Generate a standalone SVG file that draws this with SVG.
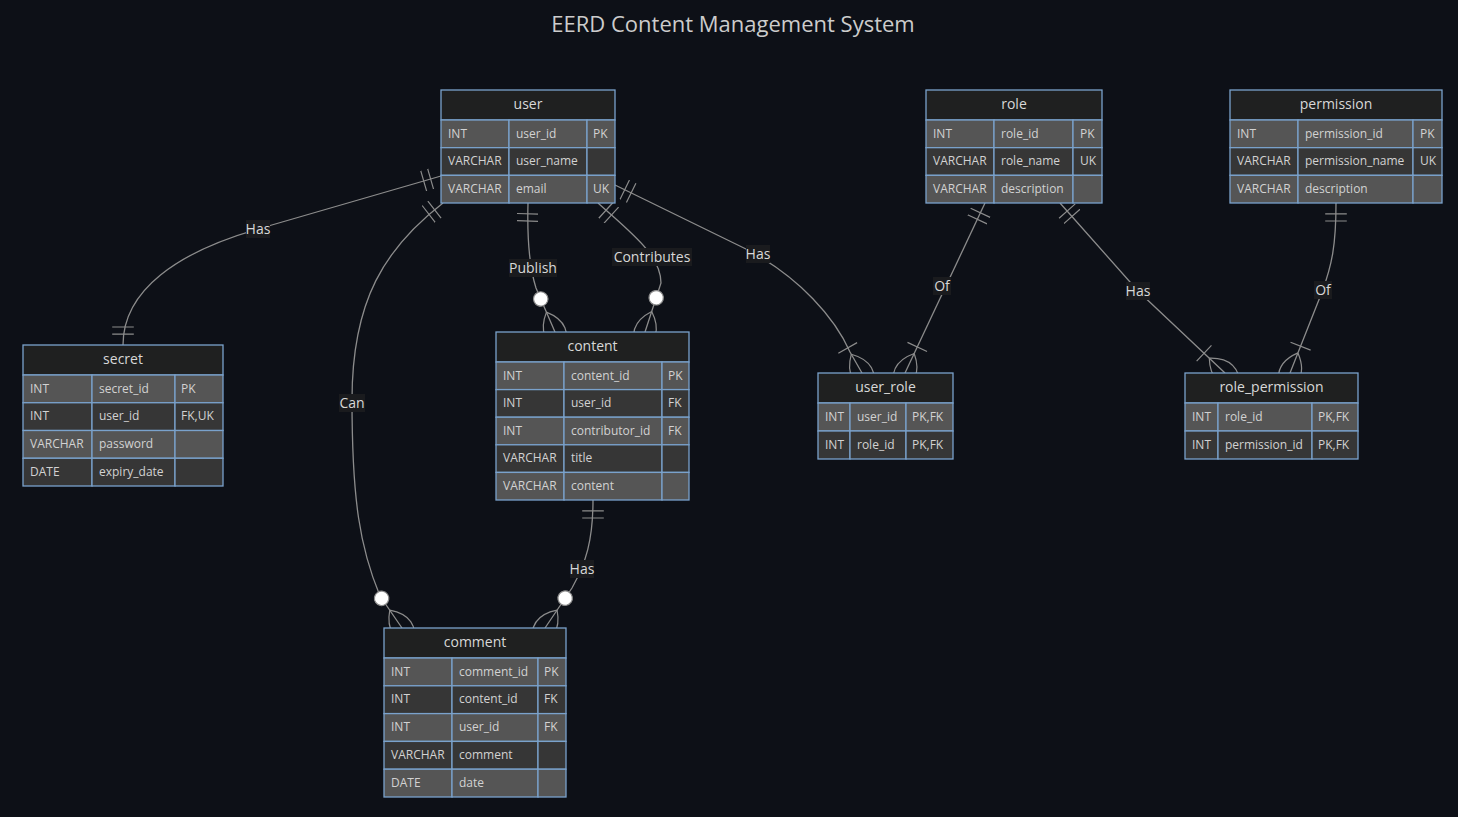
<svg xmlns="http://www.w3.org/2000/svg" width="1458" height="817" viewBox="0 0 1458 817">
<style>
.bg{fill:#0d1017}
.hdr{fill:#1f2020;stroke:#7aa2cc;stroke-width:1.3}
.odd{fill:#555555;stroke:#7aa2cc;stroke-width:1.3}
.even{fill:#363636;stroke:#7aa2cc;stroke-width:1.3}
.t{font-family:"Open Sans","Liberation Sans",sans-serif;font-size:12px;fill:#d2d2d2}
.tn{font-family:"Open Sans","Liberation Sans",sans-serif;font-size:14px;fill:#d8d8d8;text-anchor:middle}
.edge{fill:none;stroke:#8c8c8c;stroke-width:1.3}
.lblbg{fill:#1a1b1e}
.lbl{font-family:"Open Sans","Liberation Sans",sans-serif;font-size:14px;fill:#d8d8d8;text-anchor:middle}
.mk{fill:none;stroke:#8c8c8c;stroke-width:1}
.diagtitle{font-family:"Open Sans","Liberation Sans",sans-serif;font-size:22px;fill:#cccccc;text-anchor:middle}
</style>
<defs>
<marker id="onlyOneStart" markerUnits="userSpaceOnUse" viewBox="0 0 18 18" markerWidth="21.6" markerHeight="21.6" refX="0" refY="9" orient="auto">
<path class="mk" d="M9,0 L9,18 M15,0 L15,18"/>
</marker>
<marker id="onlyOneEnd" markerUnits="userSpaceOnUse" viewBox="0 0 18 18" markerWidth="21.6" markerHeight="21.6" refX="18" refY="9" orient="auto">
<path class="mk" d="M3,0 L3,18 M9,0 L9,18"/>
</marker>
<marker id="zeroOrMoreEnd" markerUnits="userSpaceOnUse" viewBox="0 0 57 36" markerWidth="68.4" markerHeight="43.2" refX="39" refY="18" orient="auto">
<circle cx="9" cy="18" r="6" fill="#ffffff" stroke="#8c8c8c" stroke-width="1"/>
<path class="mk" d="M21,18 Q39,0 57,18 Q39,36 21,18"/>
</marker>
<marker id="oneOrMoreEnd" markerUnits="userSpaceOnUse" viewBox="0 0 45 36" markerWidth="54" markerHeight="43.2" refX="27" refY="18" orient="auto">
<path class="mk" d="M3,9 L3,27 M9,18 Q27,0 45,18 Q27,36 9,18"/>
</marker>
</defs>
<rect class="bg" x="0" y="0" width="1458" height="817"/>
<text class="diagtitle" x="733" y="32">EERD Content Management System</text>

<g id="connectors">
<path class="edge" d="M441,176 L258,229 C178,252 123,290 123,345" marker-start="url(#onlyOneStart)" marker-end="url(#onlyOneEnd)"/>
<path class="edge" d="M528,203 C527,240 529,266 536,288 L555,332" marker-start="url(#onlyOneStart)" marker-end="url(#zeroOrMoreEnd)"/>
<path class="edge" d="M598,203 C630,232 661,255 661,283 L645,332" marker-start="url(#onlyOneStart)" marker-end="url(#zeroOrMoreEnd)"/>
<path class="edge" d="M615,185 L748,250 C800,278 835,318 850,352 L862,373" marker-start="url(#onlyOneStart)" marker-end="url(#oneOrMoreEnd)"/>
<path class="edge" d="M443,203 C385,248 352,300 352,400 C352,500 360,548 380,596 L402,628" marker-start="url(#onlyOneStart)" marker-end="url(#zeroOrMoreEnd)"/>
<path class="edge" d="M593,500 C593,540 586,563 572,588 L545,628" marker-start="url(#onlyOneStart)" marker-end="url(#zeroOrMoreEnd)"/>
<path class="edge" d="M985,203 L905,373" marker-start="url(#onlyOneStart)" marker-end="url(#oneOrMoreEnd)"/>
<path class="edge" d="M1060,203 L1138,291 L1225,373" marker-start="url(#onlyOneStart)" marker-end="url(#oneOrMoreEnd)"/>
<path class="edge" d="M1336,203 C1336,245 1332,265 1322,292 L1290,373" marker-start="url(#onlyOneStart)" marker-end="url(#oneOrMoreEnd)"/>
</g>

<g id="edge-labels">
<rect class="lblbg" x="246" y="220" width="24" height="18"/><text class="lbl" x="258" y="234">Has</text>
<rect class="lblbg" x="509" y="259" width="48" height="18"/><text class="lbl" x="533" y="273">Publish</text>
<rect class="lblbg" x="612" y="248" width="80" height="18"/><text class="lbl" x="652" y="262">Contributes</text>
<rect class="lblbg" x="746" y="245" width="24" height="18"/><text class="lbl" x="758" y="259">Has</text>
<rect class="lblbg" x="339" y="394" width="26" height="18"/><text class="lbl" x="352" y="408">Can</text>
<rect class="lblbg" x="570" y="560" width="24" height="18"/><text class="lbl" x="582" y="574">Has</text>
<rect class="lblbg" x="933" y="277" width="18" height="18"/><text class="lbl" x="942" y="291">Of</text>
<rect class="lblbg" x="1126" y="282" width="24" height="18"/><text class="lbl" x="1138" y="296">Has</text>
<rect class="lblbg" x="1314" y="281" width="18" height="18"/><text class="lbl" x="1323" y="295">Of</text>
</g>

<g id="user">
<rect class="hdr" x="441" y="90" width="174" height="30"/>
<text class="tn" x="528" y="109">user</text>
<rect class="odd" x="441" y="120" width="68" height="27.67"/><rect class="odd" x="509" y="120" width="78" height="27.67"/><rect class="odd" x="587" y="120" width="28" height="27.67"/>
<text class="t" x="448" y="137.5">INT</text><text class="t" x="516" y="137.5">user_id</text><text class="t" x="593" y="137.5">PK</text>
<rect class="even" x="441" y="147.67" width="68" height="27.67"/><rect class="even" x="509" y="147.67" width="78" height="27.67"/><rect class="even" x="587" y="147.67" width="28" height="27.67"/>
<text class="t" x="448" y="165.2">VARCHAR</text><text class="t" x="516" y="165.2">user_name</text>
<rect class="odd" x="441" y="175.33" width="68" height="27.67"/><rect class="odd" x="509" y="175.33" width="78" height="27.67"/><rect class="odd" x="587" y="175.33" width="28" height="27.67"/>
<text class="t" x="448" y="192.8">VARCHAR</text><text class="t" x="516" y="192.8">email</text><text class="t" x="593" y="192.8">UK</text>
</g>

<g id="secret">
<rect class="hdr" x="23" y="345" width="200" height="30"/>
<text class="tn" x="123" y="364">secret</text>
<rect class="odd" x="23" y="375" width="69" height="27.75"/><rect class="odd" x="92" y="375" width="83" height="27.75"/><rect class="odd" x="175" y="375" width="48" height="27.75"/>
<text class="t" x="30" y="392.5">INT</text><text class="t" x="99" y="392.5">secret_id</text><text class="t" x="181" y="392.5">PK</text>
<rect class="even" x="23" y="402.75" width="69" height="27.75"/><rect class="even" x="92" y="402.75" width="83" height="27.75"/><rect class="even" x="175" y="402.75" width="48" height="27.75"/>
<text class="t" x="30" y="420.25">INT</text><text class="t" x="99" y="420.25">user_id</text><text class="t" x="181" y="420.25">FK,UK</text>
<rect class="odd" x="23" y="430.5" width="69" height="27.75"/><rect class="odd" x="92" y="430.5" width="83" height="27.75"/><rect class="odd" x="175" y="430.5" width="48" height="27.75"/>
<text class="t" x="30" y="448">VARCHAR</text><text class="t" x="99" y="448">password</text>
<rect class="even" x="23" y="458.25" width="69" height="27.75"/><rect class="even" x="92" y="458.25" width="83" height="27.75"/><rect class="even" x="175" y="458.25" width="48" height="27.75"/>
<text class="t" x="30" y="475.75">DATE</text><text class="t" x="99" y="475.75">expiry_date</text>
</g>

<g id="content">
<rect class="hdr" x="496" y="332" width="193" height="30"/>
<text class="tn" x="592.5" y="351">content</text>
<rect class="odd" x="496" y="362" width="68" height="27.6"/><rect class="odd" x="564" y="362" width="98" height="27.6"/><rect class="odd" x="662" y="362" width="27" height="27.6"/>
<text class="t" x="503" y="379.5">INT</text><text class="t" x="571" y="379.5">content_id</text><text class="t" x="668" y="379.5">PK</text>
<rect class="even" x="496" y="389.6" width="68" height="27.6"/><rect class="even" x="564" y="389.6" width="98" height="27.6"/><rect class="even" x="662" y="389.6" width="27" height="27.6"/>
<text class="t" x="503" y="407.1">INT</text><text class="t" x="571" y="407.1">user_id</text><text class="t" x="668" y="407.1">FK</text>
<rect class="odd" x="496" y="417.2" width="68" height="27.6"/><rect class="odd" x="564" y="417.2" width="98" height="27.6"/><rect class="odd" x="662" y="417.2" width="27" height="27.6"/>
<text class="t" x="503" y="434.7">INT</text><text class="t" x="571" y="434.7">contributor_id</text><text class="t" x="668" y="434.7">FK</text>
<rect class="even" x="496" y="444.8" width="68" height="27.6"/><rect class="even" x="564" y="444.8" width="98" height="27.6"/><rect class="even" x="662" y="444.8" width="27" height="27.6"/>
<text class="t" x="503" y="462.3">VARCHAR</text><text class="t" x="571" y="462.3">title</text>
<rect class="odd" x="496" y="472.4" width="68" height="27.6"/><rect class="odd" x="564" y="472.4" width="98" height="27.6"/><rect class="odd" x="662" y="472.4" width="27" height="27.6"/>
<text class="t" x="503" y="489.9">VARCHAR</text><text class="t" x="571" y="489.9">content</text>
</g>

<g id="comment">
<rect class="hdr" x="384" y="628" width="182" height="30"/>
<text class="tn" x="475" y="647">comment</text>
<rect class="odd" x="384" y="658" width="68" height="27.8"/><rect class="odd" x="452" y="658" width="86" height="27.8"/><rect class="odd" x="538" y="658" width="28" height="27.8"/>
<text class="t" x="391" y="675.5">INT</text><text class="t" x="459" y="675.5">comment_id</text><text class="t" x="544" y="675.5">PK</text>
<rect class="even" x="384" y="685.8" width="68" height="27.8"/><rect class="even" x="452" y="685.8" width="86" height="27.8"/><rect class="even" x="538" y="685.8" width="28" height="27.8"/>
<text class="t" x="391" y="703.3">INT</text><text class="t" x="459" y="703.3">content_id</text><text class="t" x="544" y="703.3">FK</text>
<rect class="odd" x="384" y="713.6" width="68" height="27.8"/><rect class="odd" x="452" y="713.6" width="86" height="27.8"/><rect class="odd" x="538" y="713.6" width="28" height="27.8"/>
<text class="t" x="391" y="731.1">INT</text><text class="t" x="459" y="731.1">user_id</text><text class="t" x="544" y="731.1">FK</text>
<rect class="even" x="384" y="741.4" width="68" height="27.8"/><rect class="even" x="452" y="741.4" width="86" height="27.8"/><rect class="even" x="538" y="741.4" width="28" height="27.8"/>
<text class="t" x="391" y="758.9">VARCHAR</text><text class="t" x="459" y="758.9">comment</text>
<rect class="odd" x="384" y="769.2" width="68" height="27.8"/><rect class="odd" x="452" y="769.2" width="86" height="27.8"/><rect class="odd" x="538" y="769.2" width="28" height="27.8"/>
<text class="t" x="391" y="786.7">DATE</text><text class="t" x="459" y="786.7">date</text>
</g>

<g id="role">
<rect class="hdr" x="926" y="90" width="176" height="30"/>
<text class="tn" x="1014" y="109">role</text>
<rect class="odd" x="926" y="120" width="68" height="27.67"/><rect class="odd" x="994" y="120" width="79" height="27.67"/><rect class="odd" x="1073" y="120" width="29" height="27.67"/>
<text class="t" x="933" y="137.5">INT</text><text class="t" x="1001" y="137.5">role_id</text><text class="t" x="1080" y="137.5">PK</text>
<rect class="even" x="926" y="147.67" width="68" height="27.67"/><rect class="even" x="994" y="147.67" width="79" height="27.67"/><rect class="even" x="1073" y="147.67" width="29" height="27.67"/>
<text class="t" x="933" y="165.2">VARCHAR</text><text class="t" x="1001" y="165.2">role_name</text><text class="t" x="1080" y="165.2">UK</text>
<rect class="odd" x="926" y="175.33" width="68" height="27.67"/><rect class="odd" x="994" y="175.33" width="79" height="27.67"/><rect class="odd" x="1073" y="175.33" width="29" height="27.67"/>
<text class="t" x="933" y="192.8">VARCHAR</text><text class="t" x="1001" y="192.8">description</text>
</g>

<g id="permission">
<rect class="hdr" x="1230" y="90" width="212" height="30"/>
<text class="tn" x="1336" y="109">permission</text>
<rect class="odd" x="1230" y="120" width="68" height="27.67"/><rect class="odd" x="1298" y="120" width="115" height="27.67"/><rect class="odd" x="1413" y="120" width="29" height="27.67"/>
<text class="t" x="1237" y="137.5">INT</text><text class="t" x="1305" y="137.5">permission_id</text><text class="t" x="1420" y="137.5">PK</text>
<rect class="even" x="1230" y="147.67" width="68" height="27.67"/><rect class="even" x="1298" y="147.67" width="115" height="27.67"/><rect class="even" x="1413" y="147.67" width="29" height="27.67"/>
<text class="t" x="1237" y="165.2">VARCHAR</text><text class="t" x="1305" y="165.2">permission_name</text><text class="t" x="1420" y="165.2">UK</text>
<rect class="odd" x="1230" y="175.33" width="68" height="27.67"/><rect class="odd" x="1298" y="175.33" width="115" height="27.67"/><rect class="odd" x="1413" y="175.33" width="29" height="27.67"/>
<text class="t" x="1237" y="192.8">VARCHAR</text><text class="t" x="1305" y="192.8">description</text>
</g>

<g id="user_role">
<rect class="hdr" x="818" y="373" width="135" height="30"/>
<text class="tn" x="885.5" y="392">user_role</text>
<rect class="odd" x="818" y="403" width="32" height="28"/><rect class="odd" x="850" y="403" width="56" height="28"/><rect class="odd" x="906" y="403" width="47" height="28"/>
<text class="t" x="825" y="420.5">INT</text><text class="t" x="857" y="420.5">user_id</text><text class="t" x="912" y="420.5">PK,FK</text>
<rect class="even" x="818" y="431" width="32" height="28"/><rect class="even" x="850" y="431" width="56" height="28"/><rect class="even" x="906" y="431" width="47" height="28"/>
<text class="t" x="825" y="448.5">INT</text><text class="t" x="857" y="448.5">role_id</text><text class="t" x="912" y="448.5">PK,FK</text>
</g>

<g id="role_permission">
<rect class="hdr" x="1185" y="373" width="173" height="30"/>
<text class="tn" x="1271.5" y="392">role_permission</text>
<rect class="odd" x="1185" y="403" width="33" height="28"/><rect class="odd" x="1218" y="403" width="94" height="28"/><rect class="odd" x="1312" y="403" width="46" height="28"/>
<text class="t" x="1192" y="420.5">INT</text><text class="t" x="1225" y="420.5">role_id</text><text class="t" x="1318" y="420.5">PK,FK</text>
<rect class="even" x="1185" y="431" width="33" height="28"/><rect class="even" x="1218" y="431" width="94" height="28"/><rect class="even" x="1312" y="431" width="46" height="28"/>
<text class="t" x="1192" y="448.5">INT</text><text class="t" x="1225" y="448.5">permission_id</text><text class="t" x="1318" y="448.5">PK,FK</text>
</g>
</svg>
